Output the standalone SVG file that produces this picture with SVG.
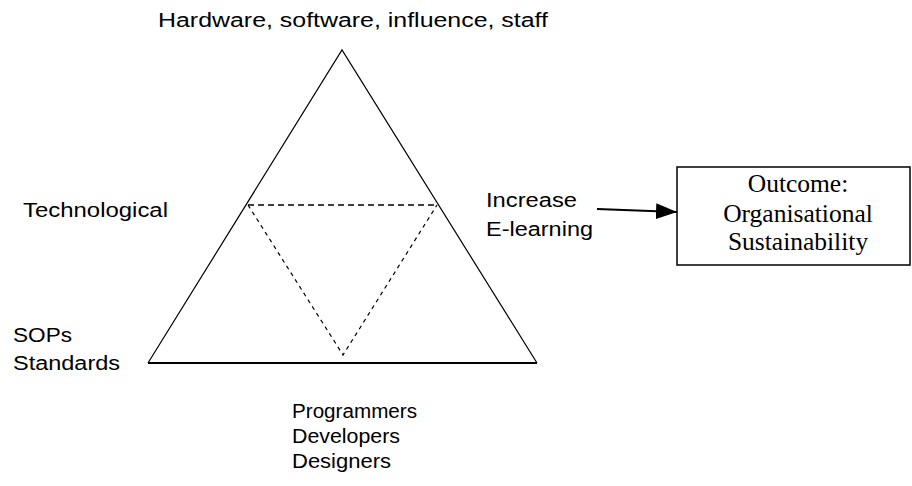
<svg xmlns="http://www.w3.org/2000/svg" width="912" height="486" viewBox="0 0 912 486">
<style>
.s{font-family:"Liberation Sans",Arial,sans-serif;font-size:20px;fill:#000}
.t{font-family:"Liberation Serif","Times New Roman",serif;font-size:25.5px;fill:#000;text-anchor:middle}
.ln{stroke:#000;fill:none}
</style>
<defs>
<marker id="ah" markerWidth="22" markerHeight="16" refX="21" refY="8" orient="auto" markerUnits="userSpaceOnUse">
<path d="M0,0 L21,8 L0,16 Z" fill="#000"/>
</marker>
</defs>
<rect width="912" height="486" fill="#fff"/>
<g id="triangle">
<path class="ln" d="M148,363 L342,50 L537,363" stroke-width="1.2"/>
<line class="ln" x1="148" y1="363" x2="537" y2="363" stroke-width="2"/>
</g>
<g id="inner">
<line class="ln" x1="248" y1="205" x2="437" y2="205" stroke-width="1.5" stroke-dasharray="6,4"/>
<path class="ln" d="M248,205 L343,355 L437,205" stroke-width="1.2" stroke-dasharray="4,4"/>
</g>
<g id="outcome">
<rect x="677" y="167" width="233" height="98" fill="#fff" stroke="#000" stroke-width="1.5"/>
<text class="t" x="798" y="192">Outcome:</text>
<text class="t" x="798" y="222">Organisational</text>
<text class="t" x="798" y="250">Sustainability</text>
</g>
<g id="connectors">
<line class="ln" x1="597" y1="209" x2="677" y2="212" stroke-width="2" marker-end="url(#ah)"/>
</g>
<g id="labels">
<text class="s" x="158" y="27" textLength="390" lengthAdjust="spacingAndGlyphs">Hardware, software, influence, staff</text>
<text class="s" x="23" y="217" textLength="145" lengthAdjust="spacingAndGlyphs">Technological</text>
<text class="s" x="13" y="342" textLength="59" lengthAdjust="spacingAndGlyphs">SOPs</text>
<text class="s" x="13" y="370" textLength="107" lengthAdjust="spacingAndGlyphs">Standards</text>
<text class="s" x="486" y="207" textLength="91" lengthAdjust="spacingAndGlyphs">Increase</text>
<text class="s" x="486" y="236" textLength="107" lengthAdjust="spacingAndGlyphs">E-learning</text>
<text class="s" x="292" y="418" textLength="125" lengthAdjust="spacingAndGlyphs">Programmers</text>
<text class="s" x="292" y="443" textLength="108" lengthAdjust="spacingAndGlyphs">Developers</text>
<text class="s" x="292" y="468" textLength="99" lengthAdjust="spacingAndGlyphs">Designers</text>
</g>
</svg>
